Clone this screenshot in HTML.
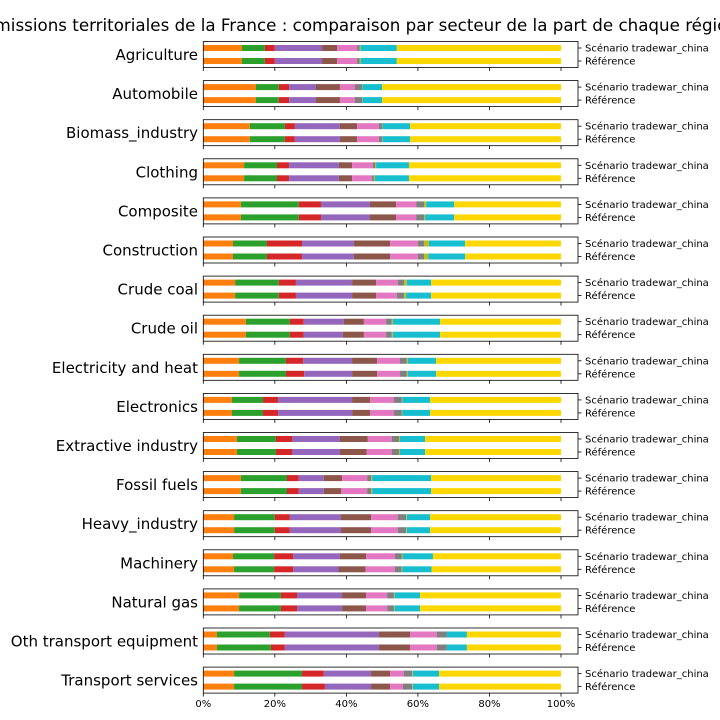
<!DOCTYPE html>
<html><head><meta charset="utf-8"><style>
body{margin:0;background:#fff;}
svg{display:block;font-family:"DejaVu Sans","Liberation Sans",sans-serif;}
</style></head><body>
<svg id="chart" width="720" height="720" viewBox="0 0 720 720" xmlns="http://www.w3.org/2000/svg">
<text x="-16" y="31" font-size="17" textLength="754" lengthAdjust="spacingAndGlyphs">Émissions territoriales de la France : comparaison par secteur de la part de chaque région</text>
<g id="panels"></g>
</svg>
<script>
const sectors = ["Agriculture","Automobile","Biomass_industry","Clothing","Composite","Construction","Crude coal","Crude oil","Electricity and heat","Electronics","Extractive industry","Fossil fuels","Heavy_industry","Machinery","Natural gas","Oth transport equipment","Transport services"];
const barLabels = ["Scénario tradewar_china","Référence"];
const xTicks = [0,20,40,60,80,100];
const colors = ["#ff7f0e","#2ca02c","#d62728","#9467bd","#8c564b","#e377c2","#7f7f7f","#bcbd22","#17becf","#ffd700"];
const scenarioShares = [
[10.8,6.4,2.8,13.2,4.2,5.6,0.7,0.3,10.1,45.9],
[14.7,6.4,2.9,7.5,6.7,4.2,2.0,0.1,5.5,50.0],
[13.0,9.8,2.8,12.6,4.8,6.1,0.9,0.1,7.7,42.2],
[11.4,9.2,3.4,13.9,3.7,5.8,0.6,0.3,9.2,42.5],
[10.5,16.2,6.2,13.7,7.3,5.6,2.2,0.6,7.8,29.9],
[8.3,9.5,9.8,14.5,10.1,7.8,1.7,1.4,10.1,26.8],
[8.9,12.2,4.8,15.7,6.7,6.1,1.7,0.8,6.8,36.3],
[11.9,12.3,3.9,11.2,5.6,6.2,1.6,0.3,13.2,33.8],
[10.0,13.1,4.8,13.7,7.0,6.4,1.9,0.3,7.9,34.9],
[8.0,8.7,4.2,20.7,5.0,6.7,2.2,0.1,7.8,36.6],
[9.4,10.9,4.5,13.4,7.8,6.7,2.0,0.3,7.0,38.0],
[10.5,12.9,3.3,7.0,5.1,7.0,1.1,0.3,16.5,36.3],
[8.6,11.4,4.2,14.3,8.4,7.5,2.3,0.2,6.5,36.6],
[8.3,11.5,5.3,13.1,7.3,8.1,1.9,0.2,8.5,35.8],
[10.0,11.7,4.5,12.6,6.7,5.9,1.9,0.2,7.1,39.4],
[3.8,14.8,4.2,26.3,8.7,7.5,2.8,0.0,5.6,26.3],
[8.6,19.0,6.1,13.2,5.3,3.9,2.3,0.2,7.3,34.1]];
const referenceShares = [
[10.8,6.4,2.8,13.2,4.2,5.6,0.7,0.3,10.1,45.9],
[14.7,6.4,2.9,7.5,6.7,4.2,2.0,0.1,5.5,50.0],
[13.0,9.8,2.8,12.6,4.8,6.1,0.9,0.1,7.7,42.2],
[11.4,9.2,3.4,13.9,3.7,5.5,0.6,0.3,9.5,42.5],
[10.5,16.2,6.2,13.7,7.3,5.6,2.2,0.3,8.1,29.9],
[8.3,9.5,9.8,14.5,10.1,7.8,1.7,1.2,10.3,26.8],
[8.9,12.2,4.8,15.7,6.7,5.8,2.0,0.6,7.0,36.3],
[11.9,12.3,3.9,10.9,5.9,6.2,1.6,0.3,13.2,33.8],
[10.0,13.1,5.1,13.4,7.0,6.4,1.9,0.3,7.9,34.9],
[8.0,8.7,4.2,20.7,5.0,6.7,2.2,0.1,7.8,36.6],
[9.4,10.9,4.5,13.4,7.5,7.0,2.0,0.3,7.0,38.0],
[10.5,12.9,3.3,7.0,4.8,7.3,1.1,0.3,16.5,36.3],
[8.6,11.4,4.2,14.3,8.4,7.5,2.3,0.2,6.5,36.6],
[8.6,11.2,5.3,12.7,7.6,8.1,1.9,0.2,8.2,36.2],
[10.0,11.7,4.5,12.6,6.7,5.9,1.9,0.2,7.1,39.4],
[3.8,15.1,3.9,26.3,8.7,7.5,2.8,0.0,5.6,26.3],
[8.6,19.0,6.4,12.9,5.3,3.6,2.6,0.2,7.3,34.1]];

const NS="http://www.w3.org/2000/svg";
const g=document.getElementById('panels');
const x0=203.3, x100=561, right=578;
const xs=v=>x0+(x100-x0)*v/100;
function mk(tag,attrs){const e=document.createElementNS(NS,tag);for(const k in attrs)e.setAttribute(k,attrs[k]);return e;}
sectors.forEach((s,i)=>{
  const top=41.5+i*39.1, h=26;
  const pg=mk('g',{});
  
  
  g.appendChild(pg);
  const lab=mk('text',{x:198,y:top+h/2+5.5,'font-size':15,'text-anchor':'end',fill:'#000'});
  
  
  lab.textContent=s;pg.appendChild(lab);
  [scenarioShares[i],referenceShares[i]].forEach((vals,b)=>{
    const cy=top+6.5+b*13;
    let acc=0;
    vals.forEach((v,k)=>{
      if(v<=0){return;}
      const r=mk('rect',{x:xs(acc),y:cy-3,width:xs(acc+v)-xs(acc),height:6,fill:colors[k]});
      
      
      pg.appendChild(r);acc+=v;
    });
    const t=mk('line',{x1:right,x2:right+3.5,y1:cy,y2:cy,stroke:'#000','stroke-width':0.8});
    pg.appendChild(t);
    const bl=mk('text',{x:585,y:cy+3.5,'font-size':10,fill:'#000'});
    
    
    bl.textContent=barLabels[b];pg.appendChild(bl);
  });
  const box=mk('rect',{x:x0,y:top,width:right-x0,height:h,fill:'none',stroke:'#000','stroke-width':0.8});
  
  
  pg.appendChild(box);
  xTicks.forEach(t=>{
    pg.appendChild(mk('line',{x1:xs(t),x2:xs(t),y1:top+h,y2:top+h+3.5,stroke:'#000','stroke-width':0.8}));
  });
});
const lastBottom=41.5+16*39.1+26;
xTicks.forEach(t=>{
  const tl=mk('text',{x:xs(t),y:lastBottom+14,'font-size':10,'text-anchor':'middle',fill:'#000'});
  
  
  tl.textContent=t+'%';g.appendChild(tl);
});
</script>
</body></html>
